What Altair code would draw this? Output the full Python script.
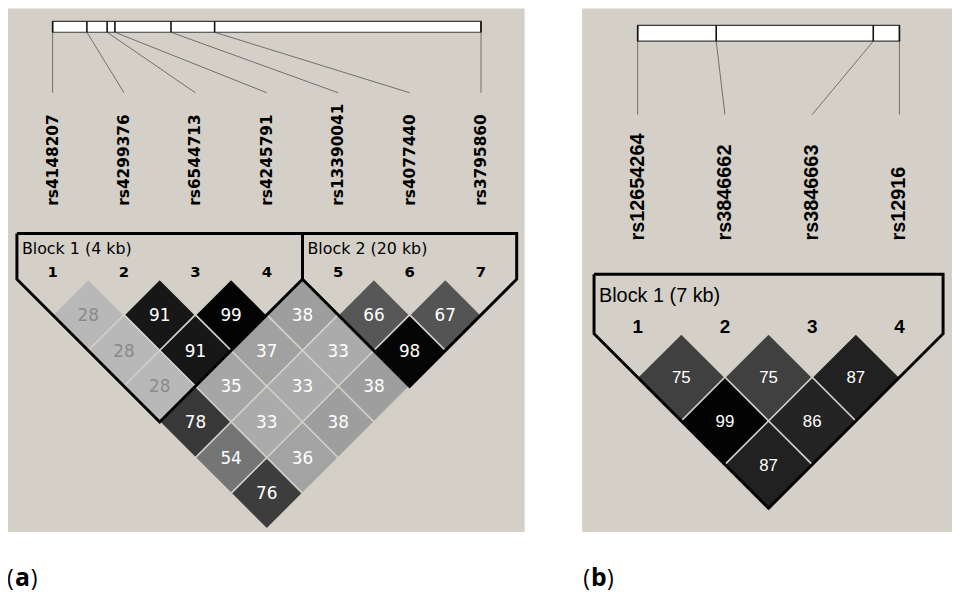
import altair as alt
import pandas as pd

# ---------------- data ----------------
snps_a = ["rs4148207", "rs4299376", "rs6544713", "rs4245791",
          "rs13390041", "rs4077440", "rs3795860"]
pos_kb_a = [0.0, 2.2, 3.5, 4.0, 7.6, 10.4, 27.5]
# r2 x 100, row k = pairs (i, i+k)
r2_a_rows = [
    [28, 91, 99, 38, 66, 67],
    [28, 91, 37, 33, 98],
    [28, 35, 33, 38],
    [78, 33, 38],
    [54, 36],
    [76],
]
blocks_a = [("Block 1 (4 kb)", 1, 4), ("Block 2 (20 kb)", 5, 7)]

snps_b = ["rs12654264", "rs3846662", "rs3846663", "rs12916"]
pos_kb_b = [0.0, 2.1, 6.3, 7.0]
r2_b_rows = [
    [75, 75, 87],
    [99, 86],
    [87],
]
blocks_b = [("Block 1 (7 kb)", 1, 4)]
panel_tags = ["a", "b"]

BG = "#d4d0c8"
X = alt.Scale(domain=[8, 960], range=[0, 952])
Y = alt.Scale(domain=[8, 593], range=[0, 585])

panels = [
    dict(snps=snps_a, kb=pos_kb_a, rows=r2_a_rows, blocks=blocks_a, tag=panel_tags[0],
         bg=(7, 6, 529, 534), bar=(53, 485, 19, 30), line_y=91, lab_y=205,
         x0=53, step=72.0, half=36.0, row1=315, top=233, num_y=277, blk_y=254,
         lab_font="DejaVu Sans", lab_size=15.5, blk_font="DejaVu Sans", blk_size=16,
         num_size=15, cell_size=17, tag_x=7),
    dict(snps=snps_b, kb=pos_kb_b, rows=r2_b_rows, blocks=blocks_b, tag=panel_tags[1],
         bg=(587, 6, 962, 534), bar=(643, 907, 23, 39), line_y=113, lab_y=240,
         x0=643, step=88.0, half=44.0, row1=378, top=274, num_y=333, blk_y=302,
         lab_font="Liberation Sans", lab_size=20, blk_font="Liberation Sans", blk_size=20,
         num_size=19, cell_size=17, tag_x=588),
]

layers = []
for p in panels:
    n = len(p["snps"])
    mx = [p["x0"] + i * p["step"] for i in range(n)]
    bx0, bx1, by0, by1 = p["bar"]
    span = p["kb"][-1] - p["kb"][0]
    tick_x = [bx0 + (k - p["kb"][0]) / span * (bx1 - bx0) for k in p["kb"]]

    # background
    x0, y0, x1, y1 = p["bg"]
    bg = pd.DataFrame({"x": [x0], "x2": [x1], "y": [y0], "y2": [y1]})
    layers.append(alt.Chart(bg).mark_rect(fill=BG).encode(
        x=alt.X("x:Q", scale=X, axis=None), x2="x2", y=alt.Y("y:Q", scale=Y, axis=None), y2="y2"))

    # connector lines
    conn = pd.DataFrame({"x": tick_x, "y": [by1] * n, "x2": mx, "y2": [p["line_y"]] * n})
    layers.append(alt.Chart(conn).mark_rule(color="#6e6e6e", strokeWidth=1).encode(
        x=alt.X("x:Q", scale=X, axis=None), y=alt.Y("y:Q", scale=Y, axis=None), x2="x2", y2="y2"))

    # bar
    bar = pd.DataFrame({"x": [bx0], "x2": [bx1], "y": [by0], "y2": [by1]})
    layers.append(alt.Chart(bar).mark_rect(fill="white", stroke="#3a3a3a", strokeWidth=1.2).encode(
        x=alt.X("x:Q", scale=X, axis=None), x2="x2", y=alt.Y("y:Q", scale=Y, axis=None), y2="y2"))
    ticks = pd.DataFrame({"x": tick_x, "y": [by0] * n, "y2": [by1] * n})
    layers.append(alt.Chart(ticks).mark_rule(color="#111111", strokeWidth=1.6).encode(
        x=alt.X("x:Q", scale=X, axis=None), y=alt.Y("y:Q", scale=Y, axis=None), y2="y2"))

    # SNP labels
    labs = pd.DataFrame({"x": mx, "y": [p["lab_y"]] * n, "t": p["snps"]})
    layers.append(alt.Chart(labs).mark_text(angle=270, align="left", baseline="middle",
                                            font=p["lab_font"], fontWeight="bold",
                                            fontSize=p["lab_size"], color="black").encode(
        x=alt.X("x:Q", scale=X, axis=None), y=alt.Y("y:Q", scale=Y, axis=None), text="t:N"))

    # LD cells
    recs = []
    for k, row in enumerate(p["rows"], start=1):
        for i, v in enumerate(row):
            j = i + k
            recs.append({"x": (mx[i] + mx[j]) / 2, "y": p["row1"] + (k - 1) * p["half"],
                         "v": v, "tc": "#8a8a8a" if v < 30 else "#ffffff"})
    cells = pd.DataFrame(recs)
    size = (2 * p["half"]) ** 2
    layers.append(alt.Chart(cells).mark_point(shape="diamond", filled=True, opacity=1,
                                              size=size, stroke=BG, strokeWidth=1.5).encode(
        x=alt.X("x:Q", scale=X, axis=None), y=alt.Y("y:Q", scale=Y, axis=None),
        fill=alt.Fill("v:Q", scale=alt.Scale(domain=[0, 100], range=["#ffffff", "#000000"],
                                             interpolate="rgb"), legend=None)))
    layers.append(alt.Chart(cells).mark_text(font=p["blk_font"], fontSize=p["cell_size"],
                                             baseline="middle", align="center", dy=1).encode(
        x=alt.X("x:Q", scale=X, axis=None), y=alt.Y("y:Q", scale=Y, axis=None),
        text="v:Q", color=alt.Color("tc:N", scale=None)))

    # block outlines
    shoulder = p["row1"] - p["half"]
    orecs, brecs, nrecs = [], [], []
    for b, (name, s, e) in enumerate(p["blocks"]):
        left = mx[s - 1] - p["half"]
        right = mx[e - 1] + p["half"]
        bot = shoulder + (right - left) / 2
        pts = [(left, p["top"]), (left, shoulder), ((left + right) / 2, bot),
               (right, shoulder), (right, p["top"]), (left, p["top"])]
        for o, (px, py) in enumerate(pts):
            orecs.append({"x": px, "y": py, "b": b, "o": o})
        brecs.append({"x": left + 5, "y": p["blk_y"], "t": name})
        for m in range(s, e + 1):
            nrecs.append({"x": mx[m - 1], "y": p["num_y"], "t": str(m)})
    layers.append(alt.Chart(pd.DataFrame(orecs)).mark_line(color="black", strokeWidth=3,
                                                           strokeJoin="miter").encode(
        x=alt.X("x:Q", scale=X, axis=None), y=alt.Y("y:Q", scale=Y, axis=None),
        detail="b:N", order="o:Q"))
    layers.append(alt.Chart(pd.DataFrame(brecs)).mark_text(font=p["blk_font"], fontSize=p["blk_size"],
                                                          align="left", baseline="alphabetic",
                                                          color="black").encode(
        x=alt.X("x:Q", scale=X, axis=None), y=alt.Y("y:Q", scale=Y, axis=None), text="t:N"))
    layers.append(alt.Chart(pd.DataFrame(nrecs)).mark_text(font=p["blk_font"], fontSize=p["num_size"],
                                                          fontWeight="bold", align="center",
                                                          baseline="alphabetic", color="black").encode(
        x=alt.X("x:Q", scale=X, axis=None), y=alt.Y("y:Q", scale=Y, axis=None), text="t:N"))

    # panel tag "(a)" / "(b)"
    tx = p["tag_x"]
    par = pd.DataFrame({"x": [tx, tx + 24], "y": [588, 588], "t": ["(", ")"]})
    layers.append(alt.Chart(par).mark_text(font="Open Sans", fontSize=23, align="left",
                                           baseline="alphabetic", color="black").encode(
        x=alt.X("x:Q", scale=X, axis=None), y=alt.Y("y:Q", scale=Y, axis=None), text="t:N"))
    let = pd.DataFrame({"x": [tx + 8], "y": [588], "t": [p["tag"]]})
    layers.append(alt.Chart(let).mark_text(font="Open Sans", fontSize=25, fontWeight="bold",
                                           align="left", baseline="alphabetic", color="black").encode(
        x=alt.X("x:Q", scale=X, axis=None), y=alt.Y("y:Q", scale=Y, axis=None), text="t:N"))

chart = alt.layer(*layers).properties(
    width=952, height=585, autosize=alt.AutoSizeParams(type="none"), padding=0,
    background="white"
).configure_view(strokeWidth=0)

chart.save("out.html", embed_options={"renderer": "svg", "actions": False})
